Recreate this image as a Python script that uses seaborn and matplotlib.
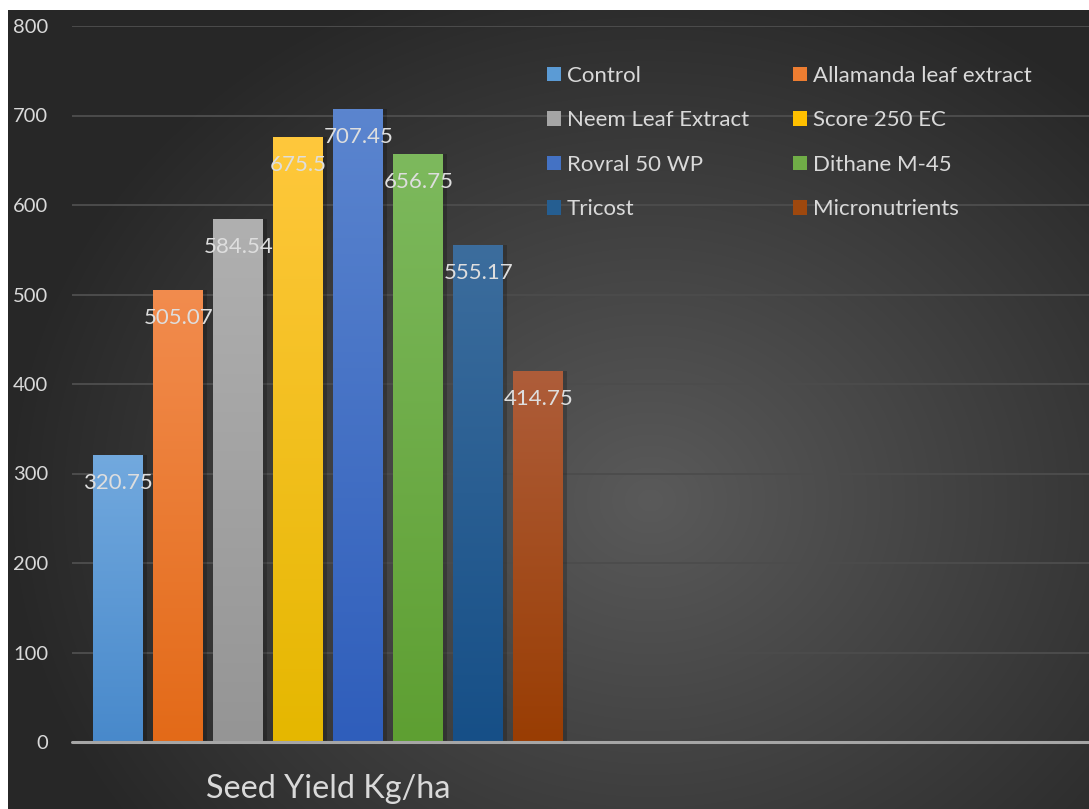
import numpy as np
import pandas as pd
import matplotlib
matplotlib.use("Agg")
import matplotlib.pyplot as plt
import seaborn as sns
from matplotlib.patches import Patch
from matplotlib.colors import to_rgb

# ---------------- data ----------------
categories = ["Seed Yield Kg/ha", " "]
treatments = ["Control", "Allamanda leaf extract", "Neem Leaf Extract", "Score 250 EC",
              "Rovral 50 WP", "Dithane M-45", "Tricost", "Micronutrients"]
yields = [320.75, 505.07, 584.54, 675.5, 707.45, 656.75, 555.17, 414.75]
yticks = [0, 100, 200, 300, 400, 500, 600, 700, 800]

# ---------------- style ----------------
base_colors = ["#5B9BD5", "#ED7D31", "#A5A5A5", "#FFC000",
               "#4472C4", "#70AD47", "#255E91", "#9E480E"]
top_colors = ["#72a9de", "#f28c4e", "#b0b0b0", "#ffc83c",
              "#5b85cf", "#7db95d", "#3c6d9d", "#ae5d3a"]
bottom_colors = ["#4889cb", "#e36a18", "#959595", "#e5b700",
                 "#2f5ebb", "#5e9f32", "#164f87", "#993d03"]

sns.set_theme(style="dark")
plt.rcParams['font.family'] = ['Lato', 'DejaVu Sans']

W, H = 1089, 809
fig = plt.figure(figsize=(W / 100, H / 100), dpi=100, facecolor="white")

# background radial gradient (chart area)
bx0, by0 = 8, 10
bg = fig.add_axes([bx0 / W, 0, 1 - bx0 / W, 1 - by0 / H])
bw, bh = W - bx0, H - by0
yy, xx = np.mgrid[0:bh, 0:bw]
cx, cy = 650 - bx0, 500 - by0
d = np.sqrt(((xx - cx) / 650.0) ** 2 + ((yy - cy) / 560.0) ** 2)
d = np.clip(d, 0, 1)
light, dark = 0x5a / 255, 0x27 / 255
v = light + (dark - light) * d
img = np.dstack([v, v, v])
bg.imshow(img, aspect="auto", interpolation="bilinear")
bg.axis("off")

# main axes
ax = fig.add_axes([72 / W, (H - 742) / H, 1 - 72 / W, (742 - 26) / H])
ax.set_facecolor("none")

df = pd.DataFrame({"Metric": [categories[0]] * len(treatments),
                   "Treatment": treatments, "Yield": yields})
sns.barplot(data=df, x="Metric", y="Yield", hue="Treatment",
            order=categories, hue_order=treatments, palette=base_colors,
            width=0.944, gap=0.167, saturation=1, errorbar=None,
            legend=False, ax=ax, zorder=3, linewidth=0, edgecolor="none")

xlim = (-0.504, 1.496)
ax.set_xlim(*xlim)
ax.set_ylim(0, 800)

# gradient fill for bars + data labels
bars = sorted([p for p in ax.patches if p.get_height() > 0], key=lambda p: p.get_x())
for i, p in enumerate(bars):
    p.set_linewidth(0)
    p.set_edgecolor("none")
    x, w, h = p.get_x(), p.get_width(), p.get_height()
    t = np.array(to_rgb(top_colors[i]))
    b = np.array(to_rgb(bottom_colors[i]))
    n = 200
    frac = np.linspace(0, 1, n)[:, None]
    grad = (t[None, :] * (1 - frac) + b[None, :] * frac)[:, None, :]
    # soft shadow
    ax.bar(x + w / 2 + 0.007, h, width=w, color="black", alpha=0.2,
           zorder=2, linewidth=0)
    im = ax.imshow(grad, extent=[x, x + w, 0, h], aspect="auto",
                   origin="upper", zorder=4)
    im.set_clip_path(p)
    ax.annotate(f"{yields[i]:g}", xy=(x + w / 2, h), xytext=(0, -28),
                textcoords="offset pixels", ha="center", va="center",
                color="#dedede", fontsize=16, zorder=6)

ax.set_xlim(*xlim)
ax.set_ylim(0, 800)

# axes styling
for s in ax.spines.values():
    s.set_visible(False)
ax.set_yticks(yticks)
ax.set_yticklabels([str(v) for v in yticks])
ax.yaxis.grid(True, color="#4c4c4c", linewidth=1.4, zorder=0)
ax.xaxis.grid(False)
ax.set_axisbelow(True)
ax.axhline(0, color="#a6a6a6", linewidth=2.2, zorder=5, clip_on=False)
ax.tick_params(axis="y", length=0, pad=17, labelsize=14.5, labelcolor="#d9d9d9")
ax.tick_params(axis="x", length=0, pad=23, labelsize=23.3, labelcolor="#d9d9d9")
ax.set_xlabel("")
ax.set_ylabel("")

# legend (row-major order like the reference)
order = [0, 2, 4, 6, 1, 3, 5, 7]
handles = [Patch(facecolor=base_colors[k], edgecolor="none") for k in order]
labels = [treatments[k] for k in order]
fig.legend(handles, labels, ncol=2, loc="upper left",
           bbox_to_anchor=(547 / W, 1 - 66 / H), frameon=False,
           fontsize=16, labelcolor="#d9d9d9", handlelength=0.62,
           handleheight=0.62, handletextpad=0.28, columnspacing=1.97,
           labelspacing=1.1, borderpad=0, borderaxespad=0)

fig.savefig("out.png", dpi=100, facecolor="white")
